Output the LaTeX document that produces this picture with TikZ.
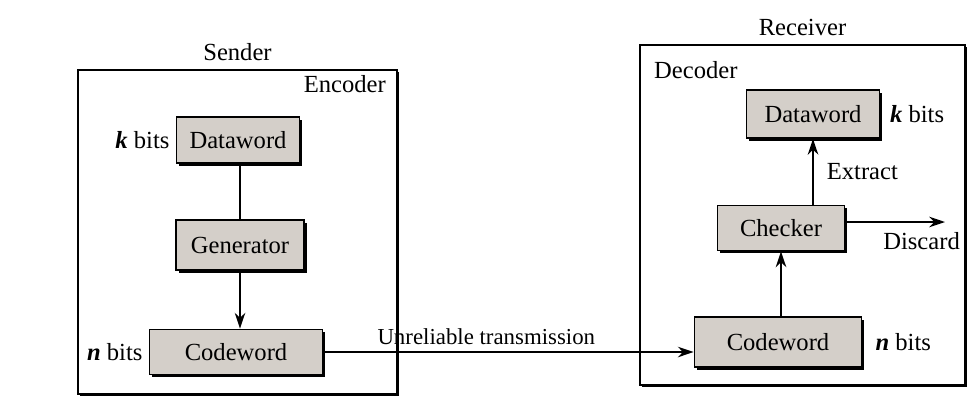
\documentclass[tikz,border=0pt]{standalone}
\usepackage{fontspec}
\setmainfont{Liberation Serif}
\usepackage{tikz}
\usetikzlibrary{arrows.meta,positioning,calc,shadows}
\definecolor{boxgray}{RGB}{212,207,201}
\tikzset{
  frame/.style={draw, line width=1.1pt, fill=white, drop shadow={shadow xshift=1.3pt, shadow yshift=-1.3pt, fill=black, opacity=1}},
  wordbox/.style={draw, line width=1pt, fill=boxgray, drop shadow={shadow xshift=1.6pt, shadow yshift=-1.6pt, fill=black, opacity=1}},
  conn/.style={line width=1.1pt},
  arr/.style={conn, -{Stealth[length=9pt, width=6pt]}},
  lbl/.style={font=\fontsize{14}{16}\selectfont}
}
\begin{document}
\begin{tikzpicture}[x=0.02cm, y=-0.02cm, every node/.style={lbl}]
  \useasboundingbox (0,0) rectangle (969,416);
  % frames
  \node[frame, minimum width=6.38cm, minimum height=6.48cm] (sender) at (237.5,232) {};
  \node[frame, minimum width=6.5cm, minimum height=6.8cm] (receiver) at (802.5,215) {};
  \node[above=1pt of sender.north] {Sender};
  \node[above=1pt of receiver.north] {Receiver};
  \node[anchor=east] (enc) at (392,84) {Encoder};
  \node[anchor=west] (dec) at (648,70) {Decoder};

  % sender side
  \node[wordbox, minimum width=2.46cm, minimum height=0.92cm] (sdata) at (238,140) {Dataword};
  \node[wordbox, minimum width=2.56cm, minimum height=1cm] (gen) at (240,245) {Generator};
  \node[wordbox, minimum width=3.46cm, minimum height=0.9cm] (scode) at (236,352) {Codeword};
  \node[left=0pt of sdata] {\textbf{\textit{k}} bits};
  \node[left=0pt of scode] {\textbf{\textit{n}} bits};

  % receiver side
  \node[wordbox, minimum width=2.66cm, minimum height=0.96cm] (rdata) at (813,114) {Dataword};
  \node[wordbox, minimum width=2.54cm, minimum height=0.9cm] (check) at (781,228) {Checker};
  \node[wordbox, minimum width=3.34cm, minimum height=1cm] (rcode) at (778,342) {Codeword};
  \node[right=2pt of rdata] {\textbf{\textit{k}} bits};
  \node[right=4pt of rcode] {\textbf{\textit{n}} bits};
  \coordinate (discard) at (945,222);

  % connectors
  \draw[conn] (sdata.south -| gen.north) -- (gen.north);
  \draw[arr] (gen.south) -- (scode.north -| gen.south);
  \draw[arr] (scode.east) -- node[above, pos=0.44, font=\fontsize{13}{15}\selectfont] {Unreliable transmission} (scode.east -| rcode.west);
  \draw[arr] (rcode.north -| check.south) -- (check.south);
  \draw[arr] (check.north -| rdata.south) -- node[right=4pt] {Extract} (rdata.south);
  \draw[arr] (check.east |- discard) -- (discard);
  \node[anchor=north east] at ([xshift=0.42cm, yshift=-0.08cm]discard) {Discard};
\end{tikzpicture}
\end{document}
